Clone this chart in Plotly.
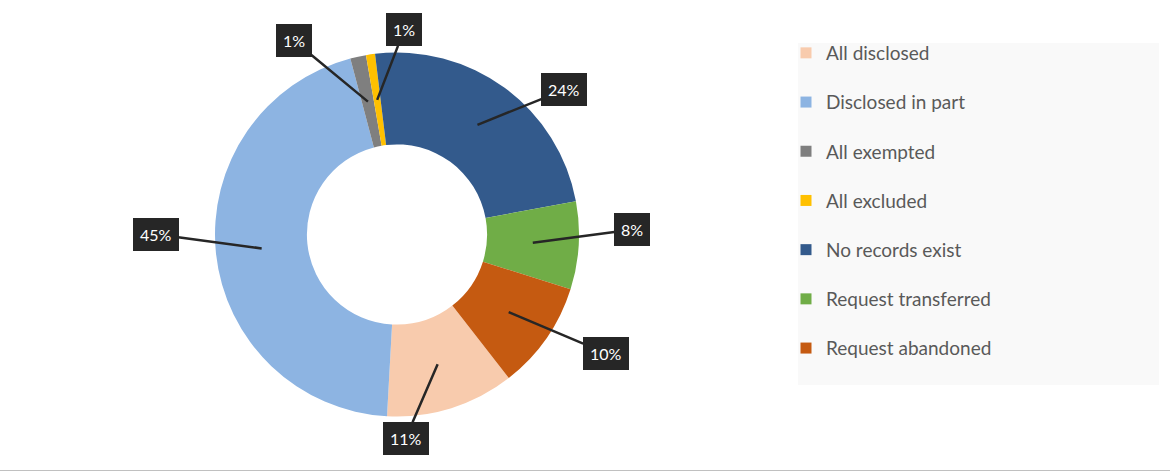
import math
import plotly.graph_objects as go

# ---- data ----
labels = ["All disclosed", "Disclosed in part", "All exempted", "All excluded",
          "No records exist", "Request transferred", "Request abandoned"]
values = [11.4, 45.0, 1.4, 0.8, 24.0, 7.8, 9.6]
colors = ["#F8CBAD", "#8DB4E2", "#7F7F7F", "#FFC000", "#335A8C", "#70AD47", "#C55A11"]

# ---- layout / style ----
W, H = 1170, 472
CX, CY, R = 397, 234.5, 182          # donut centre and outer radius (px)
HOLE = 0.495
ROTATION = 142.1                      # start angle of first slice (deg, clockwise from 12 o'clock)
callout_offsets = [(-32, 74), (-106, -14), (-74, -61), (27, -70), (87, -35), (99, -13), (97, 41)]
FONT = "Lato"
DARK = "#262626"

fig = go.Figure()
fig.add_trace(go.Pie(
    labels=labels, values=values, hole=HOLE, sort=False, direction="clockwise",
    rotation=ROTATION, textinfo="none", showlegend=False,
    marker=dict(colors=colors, line=dict(width=0)),
    domain=dict(x=[(CX - R) / W, (CX + R) / W], y=[1 - (CY + R) / H, 1 - (CY - R) / H]),
))

# legend entries (one group per label so spacing can be set)
for lab, col in zip(labels, colors):
    fig.add_trace(go.Scatter(x=[None], y=[None], mode="markers", name=lab, legendgroup=lab,
                             marker=dict(symbol="square", size=11, color=col), showlegend=True))

# callouts computed from the slice angles
total = sum(values)
ring_r = R * (1 + HOLE) / 2
angle = ROTATION
annotations = []
for v, (dx, dy) in zip(values, callout_offsets):
    span = v / total * 360
    mid = math.radians(angle + span / 2)
    angle += span
    tx = CX + ring_r * math.sin(mid)
    ty = CY - ring_r * math.cos(mid)
    annotations.append(dict(
        x=tx / W, y=1 - ty / H, xref="paper", yref="paper",
        ax=dx, ay=dy, axref="pixel", ayref="pixel",
        text=f"{round(v / total * 100)}%", showarrow=True, arrowhead=0,
        arrowwidth=2.5, arrowcolor=DARK, standoff=0,
        bgcolor=DARK, bordercolor=DARK, borderwidth=1, borderpad=6,
        font=dict(family=FONT, size=16, color="white"),
    ))

shapes = [
    dict(type="rect", xref="paper", yref="paper", x0=798 / W, x1=1159 / W,
         y0=1 - 385 / H, y1=1 - 43 / H, fillcolor="#F9F9F9", line=dict(width=0), layer="below"),
    dict(type="line", xref="paper", yref="paper", x0=0, x1=1, y0=1 - 470.5 / H, y1=1 - 470.5 / H,
         line=dict(color="#C0C0C0", width=1.2)),
]

fig.update_layout(
    width=W, height=H, margin=dict(l=0, r=0, t=0, b=0),
    paper_bgcolor="white", plot_bgcolor="white",
    xaxis=dict(visible=False), yaxis=dict(visible=False),
    annotations=annotations, shapes=shapes,
    legend=dict(x=786 / W, y=1 - 34 / H, xanchor="left", yanchor="top",
                bgcolor="rgba(0,0,0,0)", tracegroupgap=21.5,
                font=dict(family=FONT, size=19, color="#595959")),
)

fig.write_html("out.html")
